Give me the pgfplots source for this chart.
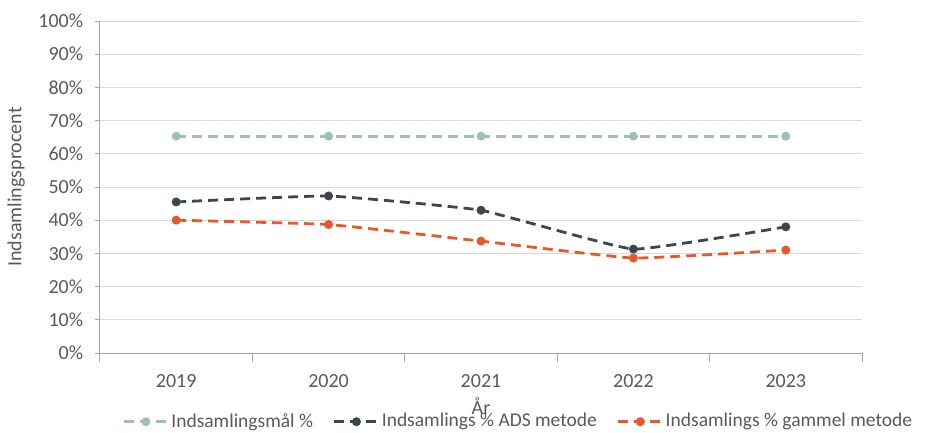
\documentclass[border=0pt]{standalone}
\usepackage{fontspec}
\setmainfont{Carlito}
\usepackage{pgfplots}
\pgfplotsset{compat=1.18}
\definecolor{goalc}{HTML}{9FBFB3}
\definecolor{adsc}{HTML}{3A4650}
\definecolor{oldc}{HTML}{E8582D}
\definecolor{txt}{HTML}{595959}
\definecolor{gridc}{HTML}{D9D9D9}
\definecolor{axc}{HTML}{A6A6A6}
\begin{document}
\fontsize{20}{24}\selectfont
\begin{tikzpicture}
\useasboundingbox (0,0) rectangle (945pt,432pt);
\begin{axis}[
    scale only axis,
    width=762pt, height=332pt,
    at={(100pt,79pt)}, anchor=south west,
    xmin=-0.5, xmax=4.5,
    ymin=0, ymax=100,
    axis x line*=bottom, axis y line*=left,
    axis line style={draw=axc, line width=1pt},
    xtick={0,1,2,3,4},
    xticklabels={2019,2020,2021,2022,2023},
    minor xtick={-0.5,0.5,1.5,2.5,3.5,4.5},
    major x tick style={draw=none},
    minor x tick style={draw=axc, line width=1pt},
    minor tick length=9pt,
    ytick={0,10,...,100},
    yticklabel={\pgfmathprintnumber{\tick}\%},
    y tick style={draw=axc, line width=1pt},
    major tick length=5pt,
    tick align=outside,
    ymajorgrids,
    grid style={draw=gridc, line width=0.8pt},
    tick label style={text=txt, font=\fontsize{20}{24}\selectfont},
    /pgf/number format/assume math mode=true,
    xticklabel style={yshift=-10pt},
    yticklabel style={xshift=-5pt},
    xlabel={År},
    ylabel={Indsamlingsprocent},
    xlabel style={at={(axis description cs:0.5,-0.16)}, anchor=center, text=txt},
    ylabel style={at={(axis description cs:-0.11,0.5)}, anchor=center, text=txt},
    label style={font=\fontsize{20}{24}\selectfont},
    legend columns=3,
    legend style={draw=none, fill=none, at={(axis description cs:0.549,-0.207)}, anchor=center,
        font=\fontsize{19.5}{22}\selectfont, text=txt, inner xsep=0pt, inner ysep=0pt,
        /tikz/every even column/.append style={column sep=18pt}},
    legend image code/.code={\draw[mark repeat=2,mark phase=2] plot coordinates {(0pt,0pt)(22pt,0pt)(44pt,0pt)};},
    every axis plot/.append style={line width=2.8pt, dash pattern=on 10pt off 6pt, mark=*, mark size=3pt, mark options={solid}},
]
\addplot[color=goalc] coordinates {(0,65.3) (1,65.3) (2,65.3) (3,65.3) (4,65.3)};
\addplot[color=adsc, smooth, tension=0.2] coordinates {(0,45.5) (1,47.3) (2,43.0) (3,31.3) (4,38.0)};
\addplot[color=oldc, smooth, tension=0.2] coordinates {(0,40.0) (1,38.7) (2,33.7) (3,28.6) (4,31.0)};
\legend{Indsamlingsmål \%, Indsamlings \% ADS metode, Indsamlings \% gammel metode}
\end{axis}
\end{tikzpicture}
\end{document}
